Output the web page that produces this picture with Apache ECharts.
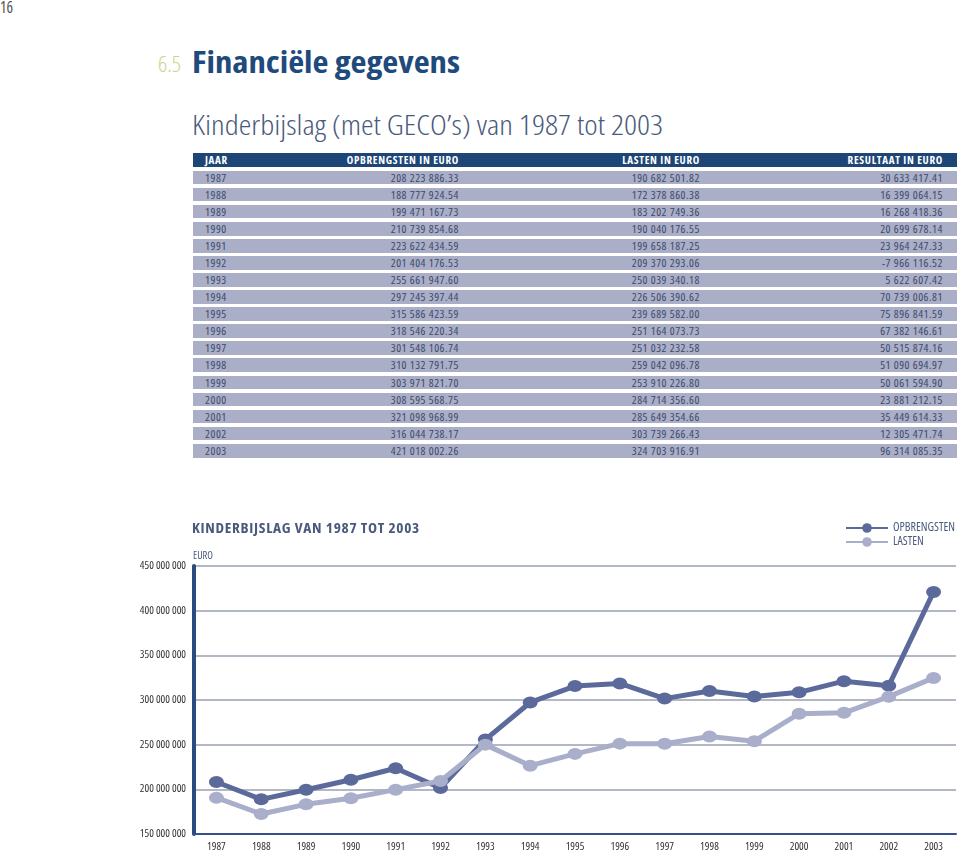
<!DOCTYPE html>
<html><head><meta charset="utf-8">
<script src="https://cdn.jsdelivr.net/npm/echarts@6/dist/echarts.min.js"></script>
<style>
html,body{margin:0;padding:0;background:#fff;width:960px;height:855px;overflow:hidden;}
body{position:relative;font-family:"Open Sans",sans-serif;font-stretch:condensed;}
.abs{position:absolute;white-space:nowrap;line-height:1;transform-origin:0 0;}
#pnum{left:0;top:0px;font-size:15.4px;color:#555;font-stretch:semi-condensed;}
#secnum{left:158px;top:53px;font-size:22.4px;font-weight:300;color:#cfd38a;}
#title{left:192px;top:47px;font-size:30px;font-weight:bold;color:#1e4a7c;font-stretch:semi-condensed;}
#subtitle{left:192px;top:110px;font-size:28px;font-weight:300;color:#4a5a7c;font-stretch:semi-condensed;}
#ctitle{left:192px;top:522px;font-size:13.3px;font-weight:bold;color:#4a5a7e;letter-spacing:0.6px;}
#unit{left:193px;top:549px;font-size:11.2px;color:#4a5a7e;}
.row{position:absolute;left:193px;width:764px;height:13.7px;background:#aaaec6;}
.row.head{background:#1d4677;height:14px;}
.cell{position:absolute;top:0;line-height:14px;font-size:11.5px;color:#3b4a6d;letter-spacing:0.55px;white-space:nowrap;}
.head .cell{color:#fff;font-weight:bold;letter-spacing:0.7px;font-size:11px;}
#chart{position:absolute;left:0;top:500px;width:960px;height:355px;}
</style></head>
<body>
<div id="pnum" class="abs">16</div>
<div id="secnum" class="abs">6.5</div>
<div id="title" class="abs">Financiële gegevens</div>
<div id="subtitle" class="abs">Kinderbijslag (met GECO’s) van 1987 tot 2003</div>
<div id="table"></div>
<div id="chart"></div>
<div id="ctitle" class="abs"></div>
<div id="unit" class="abs"></div>
<script>
// ---- data ----
var headers = ['JAAR', 'OPBRENGSTEN IN EURO', 'LASTEN IN EURO', 'RESULTAAT IN EURO'];
var years = ['1987','1988','1989','1990','1991','1992','1993','1994','1995','1996','1997','1998','1999','2000','2001','2002','2003'];
var opbrengsten = ['208 223 886.33','188 777 924.54','199 471 167.73','210 739 854.68','223 622 434.59','201 404 176.53','255 661 947.60','297 245 397.44','315 586 423.59','318 546 220.34','301 548 106.74','310 132 791.75','303 971 821.70','308 595 568.75','321 098 968.99','316 044 738.17','421 018 002.26'];
var lasten = ['190 682 501.82','172 378 860.38','183 202 749.36','190 040 176.55','199 658 187.25','209 370 293.06','250 039 340.18','226 506 390.62','239 689 582.00','251 164 073.73','251 032 232.58','259 042 096.78','253 910 226.80','284 714 356.60','285 649 354.66','303 739 266.43','324 703 916.91'];
var resultaat = ['30 633 417.41','16 399 064.15','16 268 418.36','20 699 678.14','23 964 247.33','-7 966 116.52','5 622 607.42','70 739 006.81','75 896 841.59','67 382 146.61','50 515 874.16','51 090 694.97','50 061 594.90','23 881 212.15','35 449 614.33','12 305 471.74','96 314 085.35'];
var chartTitle = 'KINDERBIJSLAG VAN 1987 TOT 2003';
var unitLabel = 'EURO';
var seriesNames = ['OPBRENGSTEN', 'LASTEN'];

// ---- headings: fit to reference widths ----
function fit(id, w){
  var el = document.getElementById(id);
  var cw = el.getBoundingClientRect().width;
  if (cw > 0) el.style.transform = 'scaleX(' + (w / cw) + ')';
}
document.getElementById('ctitle').textContent = chartTitle;
document.getElementById('unit').textContent = unitLabel;
fit('title', 268);
fit('subtitle', 471);
fit('secnum', 23);
fit('ctitle', 228);
fit('unit', 20);

// ---- table ----
function toNum(s){ return Number(s.replace(/ /g,'')); }
var table = document.getElementById('table');
var colPos = [{left:12},{right:498},{right:257},{right:14}];
function makeRow(vals, top, head){
  var r = document.createElement('div');
  r.className = 'row' + (head ? ' head' : '');
  r.style.top = top + 'px';
  vals.forEach(function(v,i){
    var c = document.createElement('div');
    c.className = 'cell';
    c.textContent = v;
    if (colPos[i].left !== undefined) c.style.left = colPos[i].left + 'px';
    else c.style.right = colPos[i].right + 'px';
    r.appendChild(c);
  });
  table.appendChild(r);
}
makeRow(headers, 153, true);
years.forEach(function(y,i){
  makeRow([y, opbrengsten[i], lasten[i], resultaat[i]], 170.6 + i*17.08, false);
});

// ---- chart ----
var font = '"Open Sans",sans-serif';
var cond = 'condensed';
var chart = echarts.init(document.getElementById('chart'));
chart.setOption({
  animation:false,
  textStyle:{fontFamily:font, fontStyle:cond},
  legend:{
    orient:'vertical', left:840, top:17, itemWidth:42, itemHeight:12, itemGap:2,
    textStyle:{fontFamily:font, fontStyle:cond, fontSize:12, color:'#4a5a7e'},
    data:seriesNames
  },
  grid:{left:194, right:4, top:66, bottom:21},
  xAxis:{
    type:'category', data:years, boundaryGap:true,
    axisLine:{lineStyle:{color:'#34508a', width:2}},
    axisTick:{inside:true, length:6, lineStyle:{color:'#34508a', width:1.5}},
    axisLabel:{fontFamily:font, fontStyle:cond, fontSize:11, color:'#333', margin:7}
  },
  yAxis:{
    type:'value', min:150000000, max:450000000, interval:50000000,
    axisLine:{show:true, lineStyle:{color:'#2b4a80', width:4}},
    axisTick:{show:false},
    axisLabel:{fontFamily:font, fontStyle:cond, fontSize:11, color:'#333', margin:8,
      formatter:function(v){ return String(v).replace(/\B(?=(\d{3})+(?!\d))/g,' '); }},
    splitLine:{lineStyle:{color:'#9aa0b2', width:1.5}}
  },
  series:[
    {name:seriesNames[0], type:'line', data:opbrengsten.map(toNum),
     symbol:'circle', symbolSize:[15,12],
     lineStyle:{color:'#5b6a9b', width:5}, itemStyle:{color:'#5b6a9b'}},
    {name:seriesNames[1], type:'line', data:lasten.map(toNum),
     symbol:'circle', symbolSize:[15,12],
     lineStyle:{color:'#a9aeca', width:5}, itemStyle:{color:'#a9aeca'}}
  ]
});
</script>
</body></html>
